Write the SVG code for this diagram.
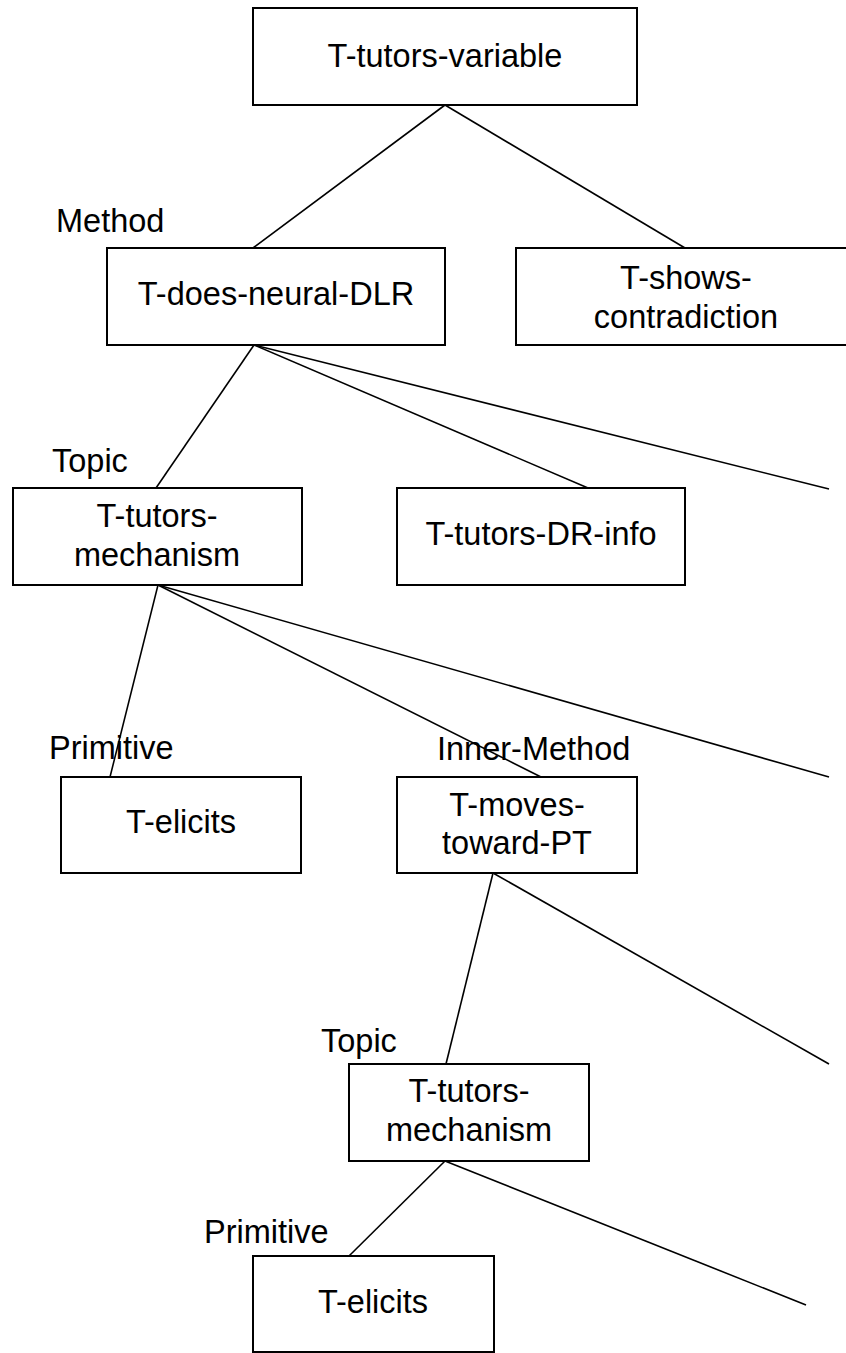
<svg xmlns="http://www.w3.org/2000/svg" width="846" height="1353" viewBox="0 0 846 1353">
<style>
.box{fill:#fff;stroke:#000;stroke-width:2}
.t{font-family:"Liberation Sans",Arial,sans-serif;font-size:32.5px;fill:#000}
.c{text-anchor:middle}
.e{stroke:#000;stroke-width:1.6;fill:none}
</style>
<rect width="846" height="1353" fill="#fff"/>
<g id="connectors">
<line class="e" x1="445" y1="105" x2="253" y2="248"/>
<line class="e" x1="445" y1="105" x2="685" y2="248"/>
<line class="e" x1="254" y1="345" x2="156" y2="488"/>
<line class="e" x1="254" y1="345" x2="588" y2="488"/>
<line class="e" x1="254" y1="345" x2="829" y2="489"/>
<line class="e" x1="158" y1="585" x2="110" y2="777"/>
<line class="e" x1="158" y1="585" x2="541" y2="777"/>
<line class="e" x1="158" y1="585" x2="829" y2="777"/>
<line class="e" x1="493" y1="873" x2="446" y2="1064"/>
<line class="e" x1="493" y1="873" x2="829" y2="1064"/>
<line class="e" x1="445" y1="1161" x2="349" y2="1256"/>
<line class="e" x1="445" y1="1161" x2="806" y2="1305"/>
</g>
<g id="n1"><rect class="box" x="253" y="8" width="384" height="97"/><text class="t c" x="445" y="67">T-tutors-variable</text></g>
<g id="n2"><text class="t" x="56" y="232">Method</text><rect class="box" x="107" y="248" width="338" height="97"/><text class="t c" x="276" y="305">T-does-neural-DLR</text></g>
<g id="n3"><rect class="box" x="516" y="248" width="340" height="97"/><text class="t c" x="686" y="289">T-shows-</text><text class="t c" x="686" y="328">contradiction</text></g>
<g id="n4"><text class="t" x="52" y="472">Topic</text><rect class="box" x="13" y="488" width="289" height="97"/><text class="t c" x="157" y="527">T-tutors-</text><text class="t c" x="157" y="566">mechanism</text></g>
<g id="n5"><rect class="box" x="397" y="488" width="288" height="97"/><text class="t c" x="541" y="545">T-tutors-DR-info</text></g>
<g id="n6"><rect class="box" x="61" y="777" width="240" height="96"/><text class="t c" x="181" y="833">T-elicits</text></g>
<g id="n7"><rect class="box" x="397" y="777" width="240" height="96"/><text class="t c" x="517" y="816">T-moves-</text><text class="t c" x="517" y="854">toward-PT</text></g>
<g id="n8"><text class="t" x="321" y="1052">Topic</text><rect class="box" x="349" y="1064" width="240" height="97"/><text class="t c" x="469" y="1102">T-tutors-</text><text class="t c" x="469" y="1141">mechanism</text></g>
<g id="n9"><text class="t" x="204" y="1243">Primitive</text><rect class="box" x="253" y="1256" width="241" height="96"/><text class="t c" x="373" y="1313">T-elicits</text></g>
<g id="labels"><text class="t" x="49" y="759">Primitive</text><text class="t" x="437" y="760">Inner-Method</text></g>
</svg>
